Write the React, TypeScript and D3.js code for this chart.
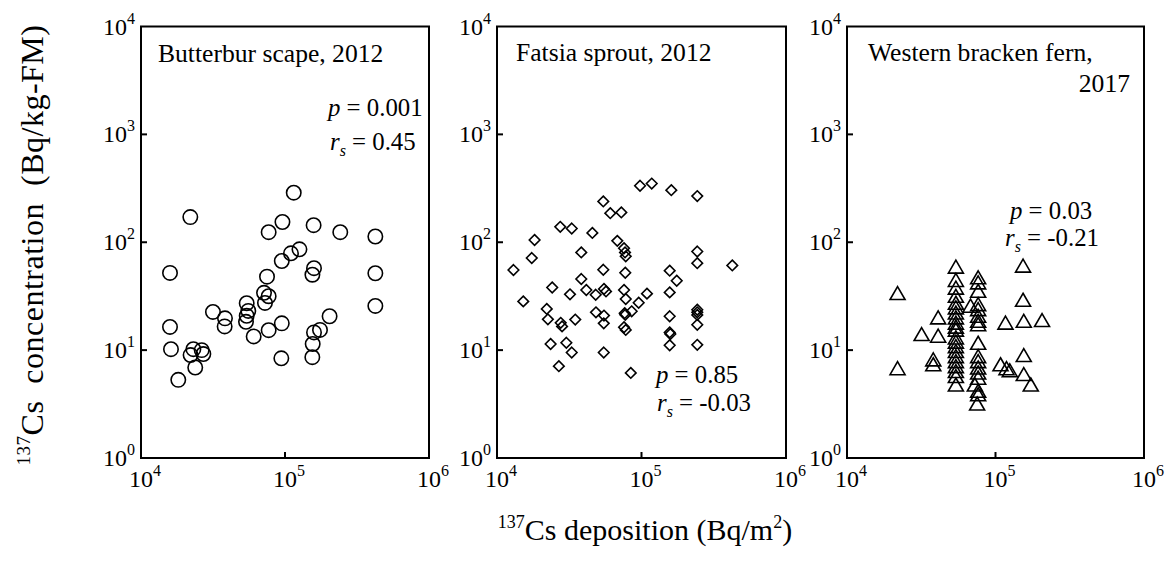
import React, { useEffect, useRef } from 'react';
import * as d3 from 'd3';

// [137Cs deposition (Bq/m2), 137Cs concentration (Bq/kg-FM)]
const butterbur: [number, number][] = [
  [115000, 288], [22000, 171], [96000, 154], [77000, 124], [158000, 144],
  [242000, 124], [424000, 113], [126000, 86], [110000, 79], [95000, 67],
  [159000, 57.5], [155000, 50], [15900, 52], [424000, 51.6], [75000, 48],
  [77000, 31.6], [71500, 34], [72600, 27.4], [54200, 27.2], [55600, 23.1],
  [54200, 20.8], [53600, 18.3], [424000, 25.7], [31600, 22.6], [38300, 19.7],
  [38100, 16.6], [204000, 20.6], [175000, 15.4], [159000, 14.6], [95000, 17.7],
  [77000, 15.3], [60600, 13.4], [15900, 16.4], [155700, 11.4], [154800, 8.6],
  [94300, 8.4], [16150, 10.2], [23100, 10.2], [26400, 10], [27100, 9.2],
  [22100, 9.0], [23800, 6.9], [18150, 5.3],
];

const fatsia: [number, number][] = [
  [97700, 334], [117700, 350], [160800, 304], [243200, 268], [54400, 239],
  [60800, 186], [72500, 189], [27400, 139], [32900, 134], [45700, 122],
  [18200, 105], [68000, 103], [75700, 88], [76900, 80.5], [77800, 74],
  [38300, 80.5], [17400, 71.4], [243200, 82], [243200, 64], [425000, 61],
  [13000, 55.3], [54400, 55.6], [77200, 52.2], [156700, 54.5], [175300, 44],
  [156700, 34.3], [38300, 45.6], [24100, 38.1], [32000, 32.9], [41500, 36.1],
  [48200, 32.6], [55000, 36.9], [56800, 35], [75700, 36.1], [109100, 33.4],
  [15200, 28.3], [77800, 29.8], [95600, 27.5], [85500, 22.9], [77200, 21.3],
  [76500, 22], [22100, 24.1], [22500, 19.3], [27600, 17.9], [28200, 16.6],
  [34800, 19.2], [48400, 22.4], [55000, 20.9], [54800, 17.7], [75700, 16.3],
  [77800, 15.4], [243200, 23.7], [243200, 22.4], [243200, 21.2], [243200, 17.2],
  [156700, 20.6], [156700, 14.6], [158300, 14.1], [156700, 11.1], [243200, 11.2],
  [23500, 11.4], [30200, 11.7], [32900, 9.5], [54800, 9.5], [26800, 7.1],
  [84300, 6.15],
];

const bracken: [number, number][] = [
  [153300, 60.7], [21900, 33.8], [54100, 59.4], [54100, 44.7], [54100, 38],
  [54100, 31.9], [54100, 27.5], [54100, 24.9], [54100, 22.3], [54100, 20.1],
  [54100, 18.0], [54100, 16.5], [54100, 15.5], [54100, 13.1], [54100, 12.0],
  [54100, 10.9], [54100, 9.8], [54100, 8.8], [54100, 7.9], [54100, 7.1],
  [54100, 6.4], [54100, 5.75], [54100, 4.8], [76400, 47.3], [76400, 42.5],
  [76400, 35.5], [67900, 25.8], [76400, 26.7], [76400, 24.0], [76400, 20.8],
  [76400, 18.7], [76400, 17.4], [76400, 11.7], [76400, 8.8], [76400, 7.9],
  [76400, 6.9], [76400, 6.2], [76400, 5.55], [72600, 4.8], [76400, 4.2],
  [76400, 3.9], [75200, 3.2], [41100, 20.1], [31800, 14.1], [41100, 13.6],
  [38100, 8.2], [38100, 7.4], [21900, 6.8], [116700, 18.0], [155000, 18.7],
  [205800, 19.0], [153300, 29.3], [155000, 9.0], [108100, 7.4], [118600, 6.8],
  [124800, 6.5], [155000, 6.0], [172800, 4.8],
];

const xTickValues = [1e4, 1e5, 1e6];
const xTickExps = ['4', '5', '6'];
const yTickValues = [1, 10, 100, 1000, 10000];
const yTickExps = ['0', '1', '2', '3', '4'];

const titles = [['Butterbur scape, 2012'], ['Fatsia sprout, 2012'], ['Western bracken fern,', '2017']];
const pValues = ['0.001', '0.85', '0.03'];
const rsValues = ['0.45', '-0.03', '-0.21'];
const markers = ['circle', 'diamond', 'triangle'];
const datasets = [butterbur, fatsia, bracken];

// layout
const W = 1165, H = 562;
const boxes = [
  { left: 141, right: 429 },
  { left: 497, right: 786 },
  { left: 847, right: 1144 },
];
const top = 26.5, bottom = 458;
const titlePos = [
  [{ x: 158, y: 62, anchor: 'start' }],
  [{ x: 516, y: 61, anchor: 'start' }],
  [{ x: 868, y: 61, anchor: 'start' }, { x: 1130, y: 92, anchor: 'end' }],
];
const statPos = [
  { px: 328, py: 116, rx: 330, ry: 150 },
  { px: 656, py: 383, rx: 657, ry: 411 },
  { px: 1010, py: 219, rx: 1005, ry: 246 },
];

export default function App() {
  const ref = useRef<SVGSVGElement>(null);

  useEffect(() => {
    const svg = d3.select(ref.current);
    svg.selectAll('*').remove();
    svg.append('rect').attr('width', W).attr('height', H).attr('fill', '#fff');

    datasets.forEach((data, i) => {
      const box = boxes[i];
      const x = d3.scaleLog().domain([1e4, 1e6]).range([box.left, box.right]);
      const y = d3.scaleLog().domain([1, 1e4]).range([bottom, top]);
      const g = svg.append('g');

      // markers
      const pts = g.append('g').attr('fill', 'none').attr('stroke', '#000').attr('stroke-width', 1.6);
      if (markers[i] === 'circle') {
        pts.selectAll('circle').data(data).join('circle')
          .attr('cx', d => x(d[0])).attr('cy', d => y(d[1])).attr('r', 7.2);
      } else if (markers[i] === 'diamond') {
        pts.selectAll('path').data(data).join('path')
          .attr('d', 'M0,-5.3L5.3,0L0,5.3L-5.3,0Z')
          .attr('transform', d => `translate(${x(d[0])},${y(d[1])})`);
      } else {
        pts.selectAll('path').data(data).join('path')
          .attr('d', 'M0,-6.5L7.5,6.5L-7.5,6.5Z')
          .attr('transform', d => `translate(${x(d[0])},${y(d[1])})`);
      }

      // frame
      g.append('rect')
        .attr('x', box.left).attr('y', top)
        .attr('width', box.right - box.left).attr('height', bottom - top)
        .attr('fill', 'none').attr('stroke', '#000').attr('stroke-width', 2);

      // inward ticks
      yTickValues.slice(1, -1).forEach(t => {
        g.append('line').attr('x1', box.left).attr('x2', box.left + 6)
          .attr('y1', y(t)).attr('y2', y(t)).attr('stroke', '#000').attr('stroke-width', 2);
      });
      xTickValues.slice(1, -1).forEach(t => {
        g.append('line').attr('x1', x(t)).attr('x2', x(t))
          .attr('y1', bottom).attr('y2', bottom - 6).attr('stroke', '#000').attr('stroke-width', 2);
      });

      // tick labels
      yTickValues.forEach((t, k) => {
        const tx = g.append('text').attr('x', box.left - 6).attr('y', y(t) + 8)
          .attr('text-anchor', 'end').attr('font-size', 24);
        tx.append('tspan').text('10');
        tx.append('tspan').attr('font-size', 16).attr('dy', -11).text(yTickExps[k]);
      });
      xTickValues.forEach((t, k) => {
        const tx = g.append('text').attr('x', x(t) - 12).attr('y', 487)
          .attr('text-anchor', 'start').attr('font-size', 24);
        tx.append('tspan').text('10');
        tx.append('tspan').attr('font-size', 16).attr('dy', -11).text(xTickExps[k]);
      });

      // title
      titles[i].forEach((line, k) => {
        const pos = titlePos[i][k];
        g.append('text').attr('x', pos.x).attr('y', pos.y)
          .attr('text-anchor', pos.anchor).attr('font-size', 25.6).text(line);
      });

      // statistics
      const sp = statPos[i];
      const pt = g.append('text').attr('x', sp.px).attr('y', sp.py).attr('font-size', 24.8)
        .style('white-space', 'pre');
      pt.append('tspan').attr('font-style', 'italic').text('p');
      pt.append('tspan').text(' = ' + pValues[i]);
      const rt = g.append('text').attr('x', sp.rx).attr('y', sp.ry).attr('font-size', 24.8)
        .style('white-space', 'pre');
      rt.append('tspan').attr('font-style', 'italic').text('r');
      rt.append('tspan').attr('font-style', 'italic').attr('font-size', 16).attr('dy', 6).text('s');
      rt.append('tspan').attr('dy', -6).text(' = ' + rsValues[i]);
    });

    // axis titles
    const yl = svg.append('text')
      .attr('transform', 'translate(43,245) rotate(-90)')
      .attr('text-anchor', 'middle').attr('font-size', 32)
      .attr('letter-spacing', 0.5).style('white-space', 'pre');
    yl.append('tspan').attr('font-size', 19).attr('dy', -13).text('137');
    yl.append('tspan').attr('dy', 13).text('Cs  concentration  (Bq/kg-FM)');

    const xl = svg.append('text')
      .attr('x', 645).attr('y', 540)
      .attr('text-anchor', 'middle').attr('font-size', 30).style('white-space', 'pre');
    xl.append('tspan').attr('font-size', 18).attr('dy', -12).text('137');
    xl.append('tspan').attr('dy', 12).text('Cs deposition (Bq/m');
    xl.append('tspan').attr('font-size', 18).attr('dy', -12).text('2');
    xl.append('tspan').attr('dy', 12).text(')');
  }, []);

  return (
    <svg
      ref={ref}
      width={W}
      height={H}
      style={{ position: 'absolute', left: 0, top: 0, fontFamily: "'Liberation Serif', 'Times New Roman', serif" }}
    />
  );
}
